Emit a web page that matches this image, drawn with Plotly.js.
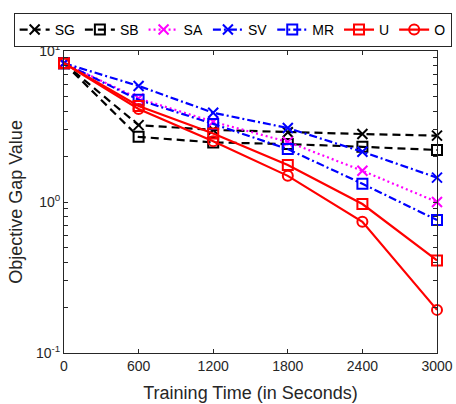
<!DOCTYPE html>
<html>
<head>
<meta charset="utf-8">
<script src="https://cdn.plot.ly/plotly-3.0.1.min.js"></script>
<style>html,body{margin:0;padding:0;background:#fff;}#chart{width:456px;height:404px;}</style>
</head>
<body>
<div id="chart"></div>
<script>
const times = [0, 600, 1200, 1800, 2400, 3000];
const seriesNames = ["SG", "SB", "SA", "SV", "MR", "U", "O"];
const SG = [8.3, 3.23, 3.0, 2.9, 2.82, 2.75];
const SB = [8.3, 2.7, 2.48, 2.42, 2.32, 2.21];
const SA = [8.3, 4.85, 3.4, 2.5, 1.61, 1.0];
const SV = [8.3, 5.87, 3.9, 3.09, 2.15, 1.45];
const MR = [8.3, 4.75, 3.29, 2.24, 1.32, 0.76];
const U  = [8.3, 4.32, 2.84, 1.76, 0.97, 0.41];
const O  = [8.3, 4.13, 2.53, 1.49, 0.74, 0.193];
const xTicks = [0, 600, 1200, 1800, 2400, 3000];
const yTickVals = [0.1, 0.2, 0.3, 0.4, 0.5, 0.6, 0.7, 0.8, 0.9, 1, 2, 3, 4, 5, 6, 7, 8, 9, 10];
const yTickText = ["10<sup>-1</sup>", "", "", "", "", "", "", "", "", "10<sup>0</sup>",
                   "", "", "", "", "", "", "", "", "10<sup>1</sup>"];

const styles = [
  {c:'#000000', dash:'8px,5px', sym:'x-thin-open'},
  {c:'#000000', dash:'8px,5px', sym:'square-open'},
  {c:'#FF00FF', dash:'2px,3px', sym:'x-thin-open'},
  {c:'#0000FF', dash:'8px,3px,2px,3px', sym:'x-thin-open'},
  {c:'#0000FF', dash:'8px,3px,2px,3px', sym:'square-open'},
  {c:'#FF0000', dash:'solid', sym:'square-open'},
  {c:'#FF0000', dash:'solid', sym:'circle-open'}
];
const ys = [SG, SB, SA, SV, MR, U, O];

const traces = ys.map((y, i) => ({
  x: times, y: y, name: seriesNames[i], type: 'scatter', mode: 'lines+markers',
  cliponaxis: false,
  line: {color: styles[i].c, width: 2.2, dash: styles[i].dash},
  marker: {symbol: styles[i].sym, size: 10, color: styles[i].c,
           line: {color: styles[i].c, width: 2}}
}));

const fontFam = 'Liberation Sans, Arial, Helvetica, sans-serif';
const axisCommon = {
  showline: true, linecolor: '#262626', linewidth: 1, mirror: 'ticks',
  showgrid: false, zeroline: false, tickcolor: '#262626', ticks: 'inside'
};
const layout = {
  width: 456, height: 404,
  margin: {l: 64, r: 19, t: 51, b: 51},
  paper_bgcolor: '#fff', plot_bgcolor: '#fff',
  font: {family: fontFam, color: '#262626', size: 14},
  showlegend: true,
  legend: {orientation: 'h', x: -0.135, xanchor: 'left', y: 1.126, yanchor: 'top',
           bordercolor: '#262626', borderwidth: 1, bgcolor: '#fff',
           font: {size: 14, color: '#000'}, itemwidth: 30, tracegroupgap: 0},
  xaxis: Object.assign({}, axisCommon, {
    range: [0, 3000], tickvals: xTicks, ticktext: xTicks.map(String), ticklen: 4,
    tickfont: {size: 14, color: '#262626'},
    title: {text: 'Training Time (in Seconds)', font: {size: 18, color: '#262626'}, standoff: 13}
  }),
  yaxis: Object.assign({}, axisCommon, {
    type: 'log', range: [-1, 1], tickvals: yTickVals, ticktext: yTickText, ticklen: 4,
    tickfont: {size: 14, color: '#262626'},
    title: {text: 'Objective Gap Value', font: {size: 18, color: '#262626'}, standoff: 8}
  })
};

Plotly.newPlot('chart', traces, layout, {displayModeBar: false, staticPlot: true});
</script>
</body>
</html>
